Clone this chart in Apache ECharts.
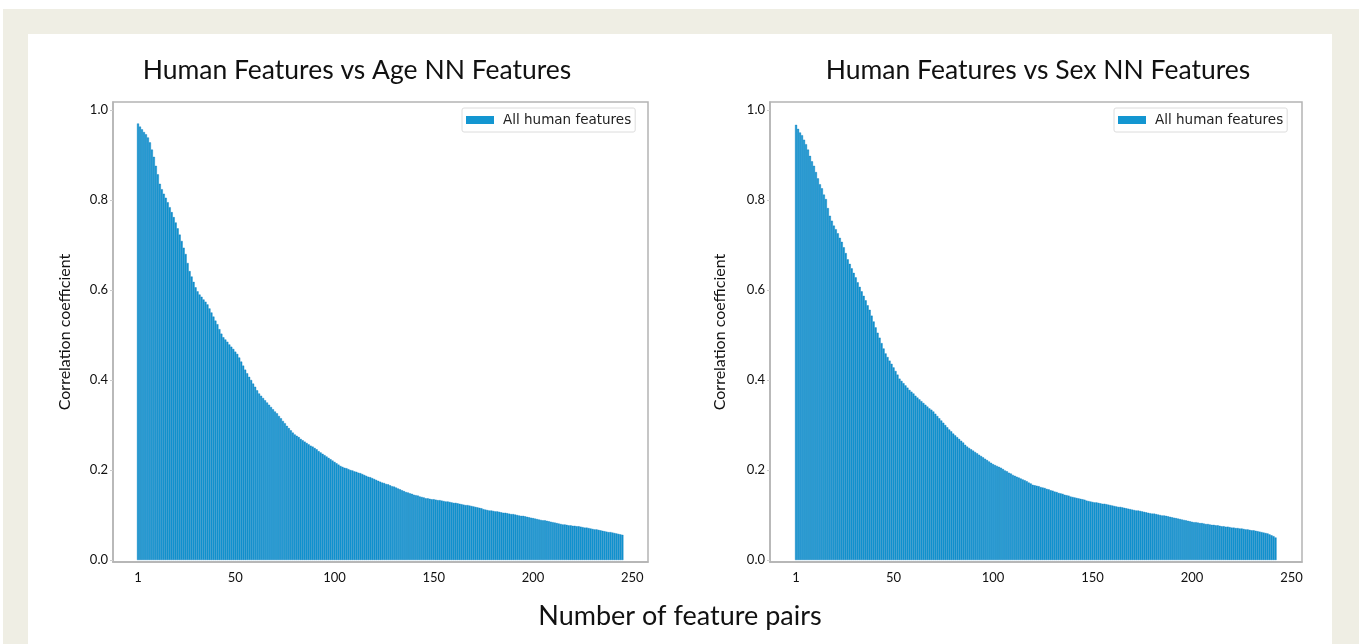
<!DOCTYPE html>
<html>
<head>
<meta charset="utf-8">
<title>Human features vs NN features</title>
<script src="https://cdn.jsdelivr.net/npm/echarts@6/dist/echarts.min.js"></script>
<style>
html, body { margin: 0; padding: 0; background: #fff; }
#frame { position: absolute; left: 3px; top: 9px; width: 1356px; height: 635px; background: #efeee4; }
#panel { position: absolute; left: 28px; top: 34px; width: 1304px; height: 610px; background: #fff; }
#chart { position: absolute; left: 0; top: 0; width: 1359px; height: 644px; }
</style>
</head>
<body>
<div id="frame"></div>
<div id="panel"></div>
<div id="chart"></div>
<script>
// correlation per feature pair, sorted (pair 1 .. 245)
var ageCorr = [
  0.970, 0.963, 0.957, 0.951, 0.946, 0.939, 0.928, 0.912, 0.896, 0.876,
  0.857, 0.836, 0.824, 0.814, 0.805, 0.795, 0.784, 0.773, 0.762, 0.750,
  0.737, 0.723, 0.709, 0.694, 0.680, 0.660, 0.642, 0.630, 0.618, 0.606,
  0.597, 0.590, 0.585, 0.579, 0.574, 0.568, 0.559, 0.550, 0.541, 0.532,
  0.524, 0.513, 0.503, 0.495, 0.490, 0.485, 0.479, 0.474, 0.469, 0.463,
  0.458, 0.450, 0.441, 0.432, 0.423, 0.415, 0.407, 0.400, 0.392, 0.385,
  0.377, 0.370, 0.365, 0.360, 0.355, 0.350, 0.345, 0.340, 0.335, 0.330,
  0.326, 0.320, 0.315, 0.309, 0.304, 0.298, 0.293, 0.288, 0.283, 0.279,
  0.276, 0.273, 0.269, 0.266, 0.263, 0.260, 0.257, 0.254, 0.252, 0.249,
  0.246, 0.242, 0.239, 0.236, 0.233, 0.230, 0.227, 0.224, 0.221, 0.218,
  0.215, 0.212, 0.209, 0.207, 0.205, 0.204, 0.202, 0.200, 0.199, 0.197,
  0.196, 0.194, 0.193, 0.191, 0.189, 0.187, 0.185, 0.184, 0.182, 0.180,
  0.178, 0.176, 0.174, 0.172, 0.171, 0.169, 0.168, 0.166, 0.164, 0.163,
  0.161, 0.159, 0.157, 0.155, 0.153, 0.151, 0.150, 0.148, 0.147, 0.145,
  0.144, 0.143, 0.141, 0.140, 0.139, 0.137, 0.137, 0.136, 0.135, 0.135,
  0.134, 0.133, 0.133, 0.132, 0.131, 0.130, 0.130, 0.129, 0.128, 0.127,
  0.127, 0.126, 0.125, 0.124, 0.123, 0.122, 0.122, 0.121, 0.120, 0.119,
  0.118, 0.117, 0.116, 0.115, 0.113, 0.112, 0.111, 0.110, 0.110, 0.109,
  0.108, 0.108, 0.107, 0.106, 0.105, 0.105, 0.104, 0.103, 0.102, 0.102,
  0.101, 0.100, 0.099, 0.098, 0.098, 0.097, 0.096, 0.095, 0.094, 0.093,
  0.092, 0.091, 0.090, 0.089, 0.088, 0.088, 0.087, 0.086, 0.085, 0.084,
  0.083, 0.082, 0.081, 0.080, 0.079, 0.079, 0.078, 0.077, 0.077, 0.076,
  0.076, 0.075, 0.075, 0.074, 0.073, 0.072, 0.072, 0.071, 0.070, 0.069,
  0.068, 0.068, 0.067, 0.066, 0.065, 0.064, 0.063, 0.062, 0.062, 0.061,
  0.060, 0.059, 0.058, 0.057, 0.056
];

// pair 1 .. 242
var sexCorr = [
  0.967, 0.958, 0.950, 0.944, 0.934, 0.924, 0.912, 0.898, 0.886, 0.876,
  0.862, 0.848, 0.835, 0.826, 0.812, 0.802, 0.782, 0.765, 0.754, 0.743,
  0.735, 0.726, 0.716, 0.707, 0.695, 0.682, 0.668, 0.658, 0.648, 0.638,
  0.628, 0.617, 0.607, 0.597, 0.587, 0.577, 0.566, 0.556, 0.543, 0.530,
  0.517, 0.505, 0.494, 0.482, 0.470, 0.459, 0.451, 0.443, 0.436, 0.428,
  0.420, 0.412, 0.403, 0.398, 0.393, 0.388, 0.383, 0.378, 0.374, 0.370,
  0.365, 0.361, 0.357, 0.353, 0.349, 0.345, 0.341, 0.337, 0.334, 0.330,
  0.325, 0.320, 0.315, 0.310, 0.305, 0.300, 0.295, 0.290, 0.286, 0.281,
  0.277, 0.273, 0.269, 0.265, 0.261, 0.256, 0.252, 0.249, 0.246, 0.243,
  0.240, 0.237, 0.234, 0.231, 0.228, 0.225, 0.222, 0.219, 0.216, 0.213,
  0.211, 0.209, 0.207, 0.205, 0.202, 0.199, 0.197, 0.194, 0.192, 0.189,
  0.187, 0.185, 0.183, 0.181, 0.179, 0.177, 0.175, 0.172, 0.170, 0.167,
  0.166, 0.165, 0.164, 0.162, 0.161, 0.160, 0.158, 0.157, 0.155, 0.154,
  0.152, 0.151, 0.149, 0.148, 0.147, 0.145, 0.144, 0.143, 0.141, 0.140,
  0.139, 0.138, 0.137, 0.136, 0.135, 0.134, 0.132, 0.131, 0.130, 0.129,
  0.128, 0.128, 0.127, 0.126, 0.125, 0.125, 0.124, 0.123, 0.122, 0.121,
  0.120, 0.119, 0.118, 0.118, 0.117, 0.116, 0.115, 0.114, 0.113, 0.112,
  0.111, 0.110, 0.110, 0.109, 0.108, 0.107, 0.106, 0.105, 0.104, 0.103,
  0.103, 0.102, 0.101, 0.100, 0.099, 0.099, 0.098, 0.097, 0.096, 0.095,
  0.094, 0.093, 0.092, 0.091, 0.090, 0.089, 0.088, 0.087, 0.086, 0.085,
  0.084, 0.084, 0.083, 0.082, 0.082, 0.081, 0.080, 0.080, 0.079, 0.078,
  0.078, 0.077, 0.077, 0.076, 0.075, 0.075, 0.074, 0.074, 0.073, 0.072,
  0.072, 0.071, 0.071, 0.070, 0.070, 0.069, 0.068, 0.068, 0.067, 0.066,
  0.066, 0.065, 0.064, 0.063, 0.062, 0.061, 0.060, 0.059, 0.057, 0.055,
  0.053, 0.050
];

var xTicks = [1, 50, 100, 150, 200, 250];
var yTicks = [0, 0.2, 0.4, 0.6, 0.8, 1.0];
var seriesName = 'All human features';
var titles = ['Human Features vs Age NN Features', 'Human Features vs Sex NN Features'];
var xName = 'Number of feature pairs';
var yName = 'Correlation coefficient';

function pairs(arr) {
  return arr.map(function (v, i) { return [i + 1, v]; });
}

var axisGray = '#b4b4b4';
var barBlue = '#1396d1';
var font = 'Lato, "Open Sans", sans-serif';

function xAxisFor(idx, min, max) {
  return {
    type: 'value', gridIndex: idx, min: min, max: max,
    splitLine: { show: false },
    axisLine: { show: true, onZero: false, lineStyle: { color: axisGray, width: 1.5 } },
    axisTick: { show: false },
    axisLabel: {
      customValues: xTicks, margin: 9,
      color: '#111', fontSize: 13, fontFamily: font
    }
  };
}

function yAxisFor(idx, gap) {
  return {
    type: 'value', gridIndex: idx, min: -0.0044, max: 1.0178,
    name: yName, nameLocation: 'middle', nameGap: gap, nameRotate: 90,
    nameTextStyle: { color: '#111', fontSize: 16, fontFamily: font },
    splitLine: { show: false },
    axisLine: { show: true, onZero: false, lineStyle: { color: axisGray, width: 1.5 } },
    axisTick: { show: true, customValues: yTicks, length: 3, lineStyle: { color: '#ccc' } },
    axisLabel: {
      customValues: yTicks, margin: 5,
      color: '#111', fontSize: 13, fontFamily: font,
      formatter: function (v) { return v.toFixed(1); }
    }
  };
}

function legendFor(left) {
  return {
    left: left, top: 108,
    itemWidth: 28, itemHeight: 8, itemGap: 10,
    padding: [5, 4, 5, 4],
    borderColor: '#dcdcdc', borderWidth: 1, borderRadius: 2,
    icon: 'rect',
    itemStyle: { borderWidth: 0 },
    textStyle: { fontSize: 13.5, fontFamily: 'DejaVu Sans', color: '#222', padding: [0, 0, 0, 4] },
    data: [seriesName]
  };
}

var chart = echarts.init(document.getElementById('chart'), null, { renderer: 'canvas' });
chart.setOption({
  backgroundColor: 'transparent',
  animation: false,
  title: [
    { text: titles[0], left: 352, top: 52, textAlign: 'center',
      textStyle: { fontSize: 26.5, fontWeight: 'normal', color: '#111', fontFamily: font } },
    { text: titles[1], left: 1033, top: 52, textAlign: 'center',
      textStyle: { fontSize: 26.5, fontWeight: 'normal', color: '#111', fontFamily: font } },
    { text: xName, left: 675, top: 598, textAlign: 'center',
      textStyle: { fontSize: 27, fontWeight: 'normal', color: '#111', fontFamily: font } }
  ],
  legend: [legendFor(462), legendFor(1114)],
  grid: [
    { left: 113, top: 102, width: 535, height: 460, show: true, borderColor: axisGray, borderWidth: 1.5, backgroundColor: 'transparent' },
    { left: 770, top: 102, width: 532, height: 460, show: true, borderColor: axisGray, borderWidth: 1.5, backgroundColor: 'transparent' }
  ],
  xAxis: [xAxisFor(0, -11.6, 257.9), xAxisFor(1, -12.1, 255.3)],
  yAxis: [yAxisFor(0, 40), yAxisFor(1, 42)],
  series: [
    { name: seriesName, type: 'bar', xAxisIndex: 0, yAxisIndex: 0,
      barWidth: 2, itemStyle: { color: barBlue, borderColor: '#0b7cbd', borderWidth: 0.4 }, data: pairs(ageCorr) },
    { name: seriesName, type: 'bar', xAxisIndex: 1, yAxisIndex: 1,
      barWidth: 2, itemStyle: { color: barBlue, borderColor: '#0b7cbd', borderWidth: 0.4 }, data: pairs(sexCorr) }
  ]
});
</script>
</body>
</html>
